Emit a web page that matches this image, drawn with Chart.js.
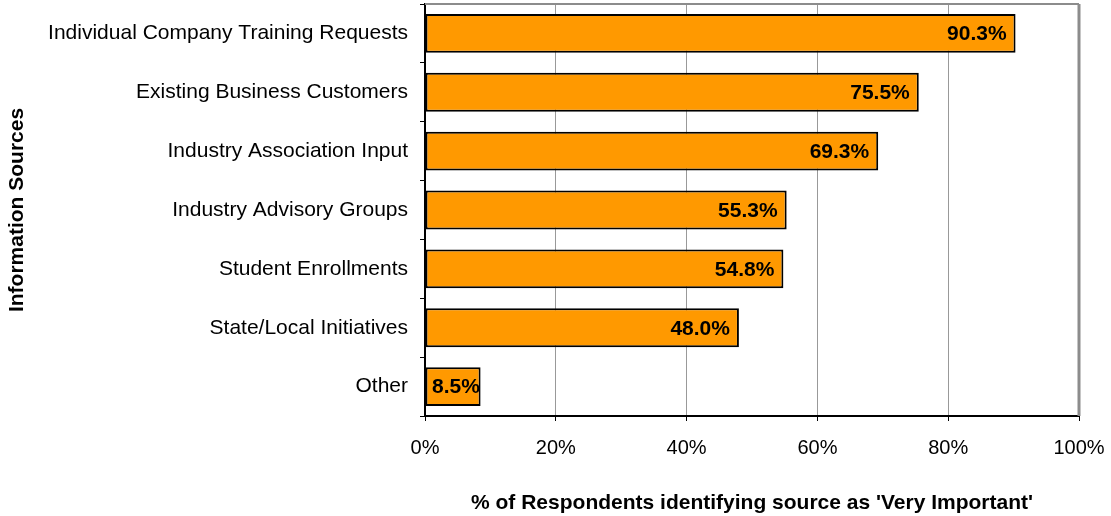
<!DOCTYPE html>
<html>
<head>
<meta charset="utf-8">
<script src="https://cdn.jsdelivr.net/npm/chart.js@4.4.0/dist/chart.umd.min.js"></script>
<style>
  html, body { margin: 0; padding: 0; background: #fff; }
  #wrap { width: 1111px; height: 516px; }
</style>
</head>
<body>
<div id="wrap"><canvas id="sourcesChart" width="1111" height="516"></canvas></div>
<script>
// Survey: sources rated 'Very Important'
const sources = [
    "Individual Company Training Requests",
    "Existing Business Customers",
    "Industry Association Input",
    "Industry Advisory Groups",
    "Student Enrollments",
    "State/Local Initiatives",
    "Other"
];
const pctVeryImportant = [90.3, 75.5, 69.3, 55.3, 54.8, 48.0, 8.5];
const xTicks = [0, 20, 40, 60, 80, 100];

const font = "'Liberation Sans', Arial, sans-serif";

// value labels at the inside end of each bar
const barLabels = {
    id: "barLabels",
    afterDatasetsDraw(chart) {
        const c = chart.ctx;
        const meta = chart.getDatasetMeta(0);
        const base = chart.scales.x.getPixelForValue(0);
        c.save();
        c.font = "bold 21px " + font;
        c.fillStyle = "#000";
        c.textBaseline = "middle";
        c.textAlign = "left";
        meta.data.forEach((bar, i) => {
            const txt = pctVeryImportant[i].toFixed(1) + "%";
            const w = c.measureText(txt).width;
            let x = bar.x - 9 - w;
            if (x < base + 7) x = base + 7;
            c.fillText(txt, x, bar.y + 1);
        });
        c.restore();
    }
};

// gray frame on top and right of the plot area
const plotFrame = {
    id: "plotFrame",
    beforeDatasetsDraw(chart) {
        const a = chart.chartArea;
        const c = chart.ctx;
        c.save();
        c.strokeStyle = "#8c8c8c";
        c.lineWidth = 2;
        c.beginPath();
        c.moveTo(a.left, a.top);
        c.lineTo(a.right, a.top);
        c.stroke();
        c.lineWidth = 3;
        c.beginPath();
        c.moveTo(a.right, a.top);
        c.lineTo(a.right, a.bottom);
        c.stroke();
        c.restore();
    }
};

new Chart(document.getElementById("sourcesChart").getContext("2d"), {
    type: "bar",
    data: {
        labels: sources,
        datasets: [{
            data: pctVeryImportant,
            backgroundColor: "#FF9900",
            borderColor: "#000",
            borderWidth: 2,
            borderSkipped: false,
            categoryPercentage: 1,
            barPercentage: 0.66
        }]
    },
    options: {
        indexAxis: "y",
        responsive: false,
        animation: false,
        layout: { padding: { top: 4, right: 32, left: 0, bottom: 0 } },
        plugins: {
            legend: { display: false },
            tooltip: { enabled: false }
        },
        scales: {
            x: {
                min: 0,
                max: 100,
                afterBuildTicks: (scale) => { scale.ticks = xTicks.map(v => ({ value: v })); },
                afterFit: (scale) => {
                    scale.height = 100;
                    scale.paddingLeft = 0;
                    scale.paddingRight = 0;
                },
                grid: { color: "#999", lineWidth: 1, tickColor: "#000", tickLength: 5 },
                border: { color: "#000", width: 2 },
                ticks: {
                    color: "#000",
                    padding: 15,
                    font: { family: font, size: 20 },
                    callback: (v) => v + "%"
                },
                title: {
                    display: true,
                    text: "% of Respondents identifying source as 'Very Important'",
                    color: "#000",
                    font: { family: font, size: 21, weight: "bold" },
                    padding: { top: 0, bottom: 0 }
                }
            },
            y: {
                afterFit: (scale) => {
                    scale.width = 425;
                    scale.paddingTop = 0;
                    scale.paddingBottom = 0;
                },
                grid: { drawOnChartArea: false, color: "#000", tickLength: 5, offset: true },
                border: { color: "#000", width: 2 },
                ticks: {
                    color: "#000",
                    padding: 12,
                    font: { family: font, size: 21 }
                },
                title: {
                    display: true,
                    text: "Information Sources",
                    color: "#000",
                    font: { family: font, size: 21, weight: "bold" },
                    padding: { top: 5, bottom: 0 }
                }
            }
        }
    },
    plugins: [plotFrame, barLabels]
});
</script>
</body>
</html>
